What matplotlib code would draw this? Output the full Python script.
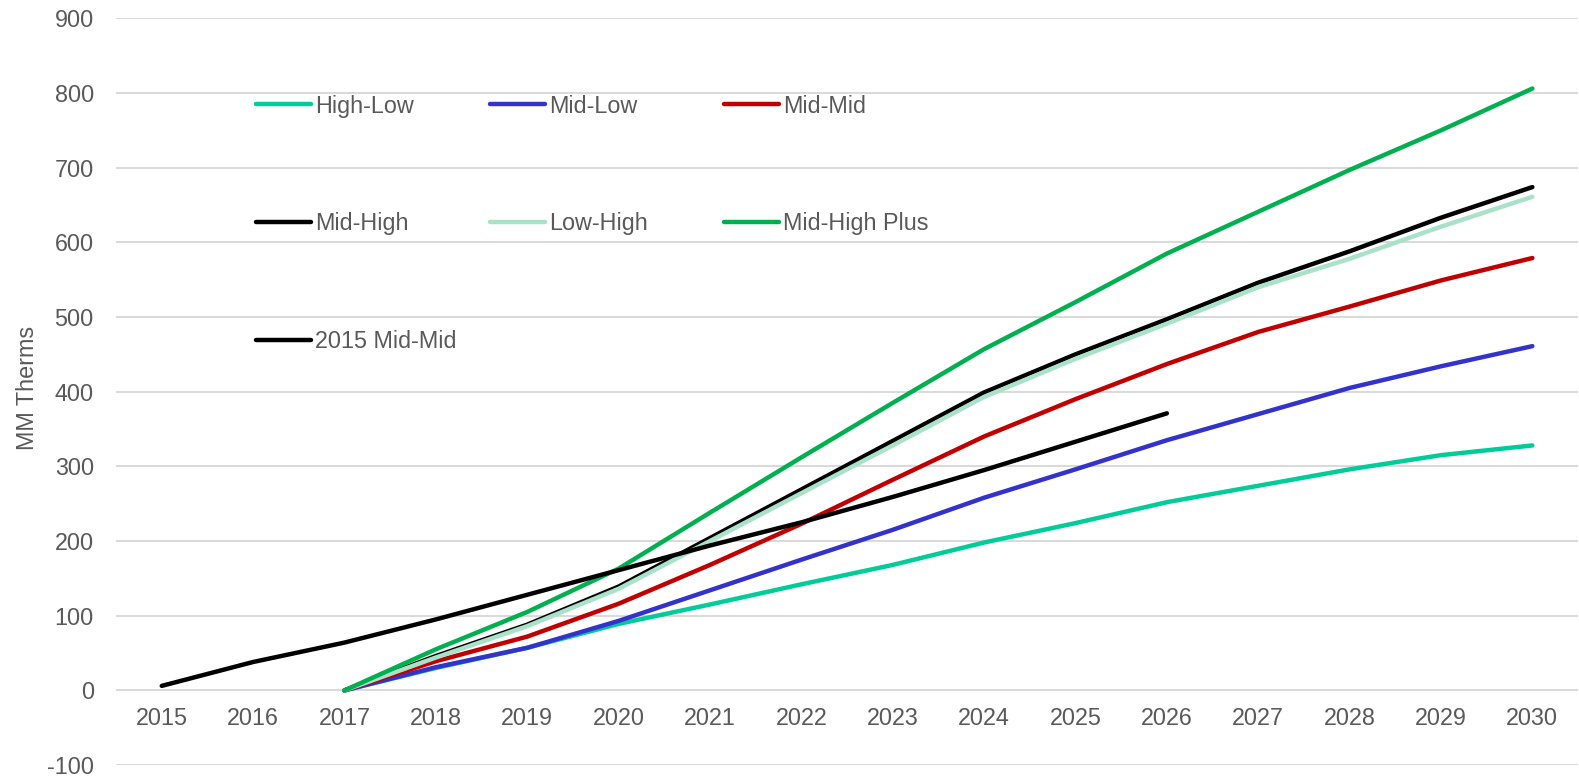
import matplotlib
matplotlib.use("Agg")
import matplotlib.pyplot as plt
from matplotlib.lines import Line2D

years = [str(y) for y in range(2015, 2031)]

# scenario paths start in 2017, the 2015 forecast starts in 2015 and stops in 2026
high_low = [None, None, 0, 30, 57, 89, 115, 142, 168, 198, 224, 252, 274, 296, 315, 328]
mid_low = [None, None, 0, 31, 57, 93, 134, 175, 215, 258, 296, 335, 370, 405, 434, 461]
mid_mid = [None, None, 0, 39, 72, 116, 168, 223, 282, 340, 390, 437, 480, 514, 549, 579]
mid_high = [None, None, 0, 46, 88, 139, 204, 269, 334, 399, 450, 497, 546, 588, 633, 674]
low_high = [None, None, 0, 44, 86, 136, 200, 264, 328, 393, 444, 491, 540, 578, 621, 661]
mid_high_plus = [None, None, 0, 55, 105, 163, 238, 312, 385, 457, 520, 585, 641, 697, 750, 806]
mid_mid_2015 = [6, 38, 64, 95, 128, 161, 194, 225, 259, 295, 333, 371, None, None, None, None]

series = [
    ("High-Low", high_low, "#00CC99"),
    ("Mid-Low", mid_low, "#3333CC"),
    ("Mid-Mid", mid_mid, "#C00000"),
    ("Mid-High", mid_high, "#000000"),
    ("Low-High", low_high, "#A9E2C9"),
    ("Mid-High Plus", mid_high_plus, "#00B050"),
    ("2015 Mid-Mid", mid_mid_2015, "#000000"),
]

plt.rcParams['font.family'] = ['Liberation Sans', 'DejaVu Sans']
plt.rcParams['axes.unicode_minus'] = False
text_color = "#595959"
fs = 16.8

fig = plt.figure(figsize=(15.79, 7.77), dpi=100)
ax = fig.add_axes([0.0735, 0.0154, 0.9259, 0.9610])

x = list(range(len(years)))
colors = {}
for name, vals, color in series:
    xs = [i for i, v in zip(x, vals) if v is not None]
    ys = [v for v in vals if v is not None]
    ax.plot(xs, ys, color=color, lw=3.2, solid_capstyle='round',
            solid_joinstyle='round', label=name)
    colors[name] = color

ax.set_ylim(-100, 900)
ax.set_xlim(-0.5, 15.5)
ax.set_yticks(range(-100, 901, 100))
ax.set_xticks(x)
ax.set_xticklabels(years)
ax.grid(axis='y', color='#D9D9D9', lw=1.4)
ax.set_axisbelow(True)
for s in ax.spines.values():
    s.set_visible(False)
# category labels sit under the zero line, not under the plot bottom
ax.spines['bottom'].set_position(('data', 0))
ax.tick_params(axis='both', length=0, labelsize=fs, colors=text_color)
ax.tick_params(axis='y', pad=16)
ax.tick_params(axis='x', pad=12)
ax.set_ylabel("MM Therms", fontsize=fs, color=text_color)
ax.yaxis.set_label_coords(-0.053, 0.505)

# three legend columns laid out at fixed positions
columns = [["High-Low", "Mid-High", "2015 Mid-Mid"],
           ["Mid-Low", "Low-High"],
           ["Mid-Mid", "Mid-High Plus"]]
col_x = [0.0958, 0.2558, 0.4159]
for cx, names in zip(col_x, columns):
    hs = [Line2D([], [], color=colors[n], lw=3.2, solid_capstyle='round') for n in names]
    leg = ax.legend(hs, names, loc='upper left', bbox_to_anchor=(cx, 0.898),
                    frameon=False, fontsize=fs, handlelength=2.36, handletextpad=0.17,
                    labelspacing=4.07, borderaxespad=0, borderpad=0, labelcolor=text_color)
    ax.add_artist(leg)
ax.legend_ = None

fig.savefig("out.png", dpi=100)
